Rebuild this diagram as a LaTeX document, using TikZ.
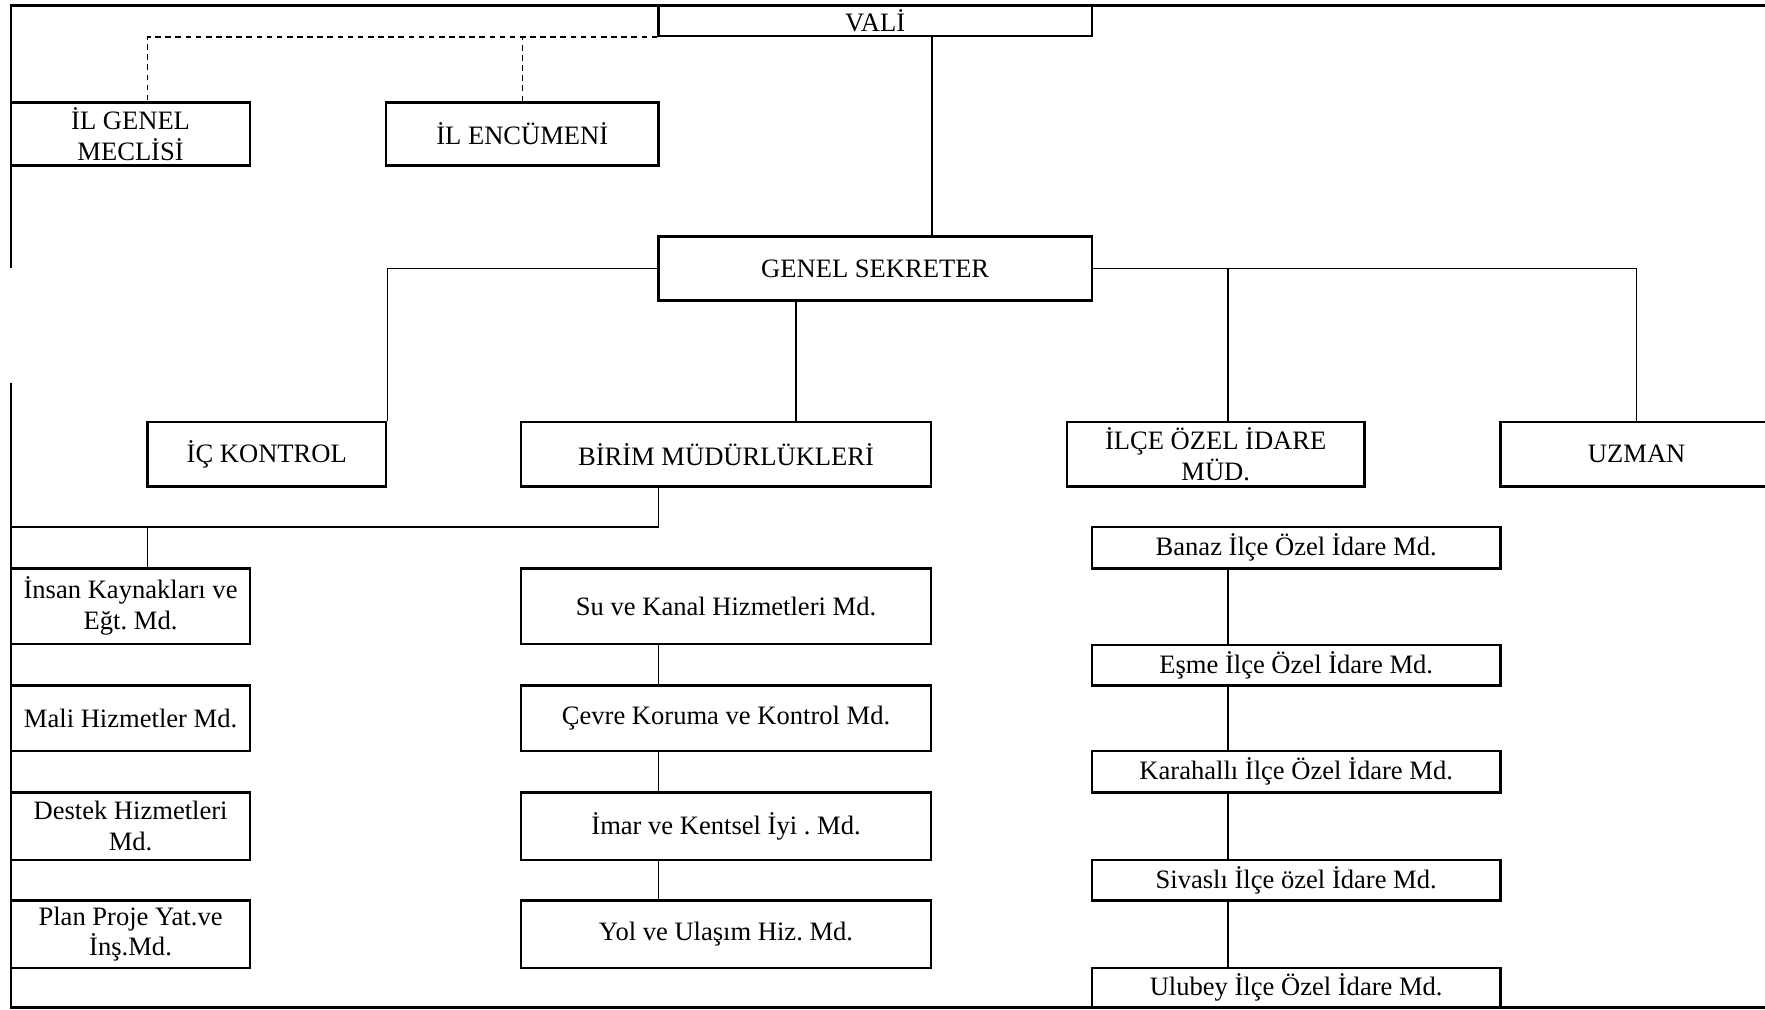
\documentclass[tikz,border=0pt]{standalone}
\usepackage{fontspec}
\setmainfont{Liberation Serif}
\usepackage{tikz}

\begin{document}
\begin{tikzpicture}[x=0.5pt, y=-0.5pt,
        box/.style={draw, line width=1.1pt, align=center, inner sep=1pt, font=\fontsize{11.8}{13.6}\selectfont\frenchspacing},
        link/.style={line width=0.7pt},
        frame/.style={line width=1.1pt}]
        \useasboundingbox (0,0) rectangle (1568,897);
        % Define the nodes
        \node[box, minimum width=192.5pt, minimum height=13.5pt] (vali) at (777.5,18.5) {VALİ};
        \node[box, minimum width=106pt, minimum height=28pt] (meclis) at (116,119) {İL GENEL\\MECLİSİ};
        \node[box, minimum width=121pt, minimum height=28pt] (encumen) at (464,119) {İL ENCÜMENİ};
        \node[box, minimum width=192.5pt, minimum height=28.5pt] (sekreter) at (777.5,238.5) {GENEL SEKRETER};
        \node[box, minimum width=106pt, minimum height=28.5pt] (kontrol) at (237,403.5) {İÇ KONTROL};
        \node[box, minimum width=182pt, minimum height=28.5pt] (birim) at (645,403.5) {BİRİM MÜDÜRLÜKLERİ};
        \node[box, minimum width=132pt, minimum height=28.5pt] (ilce) at (1080,403.5) {İLÇE ÖZEL İDARE\\MÜD.};
        \node[box, minimum width=121pt, minimum height=28.5pt] (uzman) at (1454,403.5) {UZMAN};
        % left column
        \node[box, minimum width=106pt, minimum height=33.5pt] (insan) at (116,538.5) {İnsan Kaynakları ve\\Eğt. Md.};
        \node[box, minimum width=106pt, minimum height=29pt] (mali) at (116,638) {Mali Hizmetler Md.};
        \node[box, minimum width=106pt, minimum height=30pt] (destek) at (116,734) {Destek Hizmetleri\\Md.};
        \node[box, minimum width=106pt, minimum height=30pt] (plan) at (116,830) {Plan Proje Yat.ve\\İnş.Md.};
        % middle column
        \node[box, minimum width=182pt, minimum height=33.5pt] (su) at (645,538.5) {Su ve Kanal Hizmetleri Md.};
        \node[box, minimum width=182pt, minimum height=29pt] (cevre) at (645,638) {Çevre Koruma ve Kontrol Md.};
        \node[box, minimum width=182pt, minimum height=30pt] (imar) at (645,734) {İmar ve Kentsel İyi . Md.};
        \node[box, minimum width=182pt, minimum height=30pt] (yol) at (645,830) {Yol ve Ulaşım Hiz. Md.};
        % right column
        \node[box, minimum width=181.5pt, minimum height=18.5pt] (banaz) at (1151.5,486.5) {Banaz İlçe Özel İdare Md.};
        \node[box, minimum width=181.5pt, minimum height=18pt] (esme) at (1151.5,591) {Eşme İlçe Özel İdare Md.};
        \node[box, minimum width=181.5pt, minimum height=18.5pt] (karahalli) at (1151.5,685.5) {Karahallı İlçe Özel İdare Md.};
        \node[box, minimum width=181.5pt, minimum height=18pt] (sivasli) at (1151.5,782) {Sivaslı İlçe özel İdare Md.};
        \node[box, minimum width=181.5pt, minimum height=17.5pt] (ulubey) at (1151.5,877.5) {Ulubey İlçe Özel İdare Md.};
        \coordinate (bus) at (10,468);
        % Define the frame
        \draw[frame] (10,238) -- (10,5) -- (1568,5);
        \draw[frame] (10,340) -- (10,895) -- (1568,895);
        % Define the connections
        \draw[link, dash pattern=on 2.5pt off 2pt] (vali.south west) -| ([xshift=7.5pt]meclis.north);
        \draw[link, dash pattern=on 2.5pt off 2pt] (encumen.north) -- (encumen.north |- vali.south);
        \draw[link] (vali.south -| birim.east) -- (sekreter.north -| birim.east);
        \draw[link] (sekreter.west) -| (kontrol.north east);
        \draw[link] ([xshift=-35.25pt]sekreter.south) -- ([xshift=31pt]birim.north);
        \draw[link] (sekreter.east) -| (uzman.north);
        \draw[link] ([xshift=5.5pt]ilce.north) -- ([xshift=5.5pt]ilce.north |- sekreter.east);
        \draw[link] ([xshift=-30pt]birim.south) |- (bus);
        \draw[link] ([xshift=7.5pt]insan.north) -- ([xshift=7.5pt]insan.north |- bus);
        \foreach \a/\b in {su/cevre, cevre/imar, imar/yol}
            \draw[link] ([xshift=-30pt]\a.south) -- ([xshift=-30pt]\b.north);
        \foreach \a/\b in {banaz/esme, esme/karahalli, karahalli/sivasli, sivasli/ulubey}
            \draw[link] ([xshift=-30.25pt]\a.south) -- ([xshift=-30.25pt]\b.north);
    \end{tikzpicture}
\end{document}
